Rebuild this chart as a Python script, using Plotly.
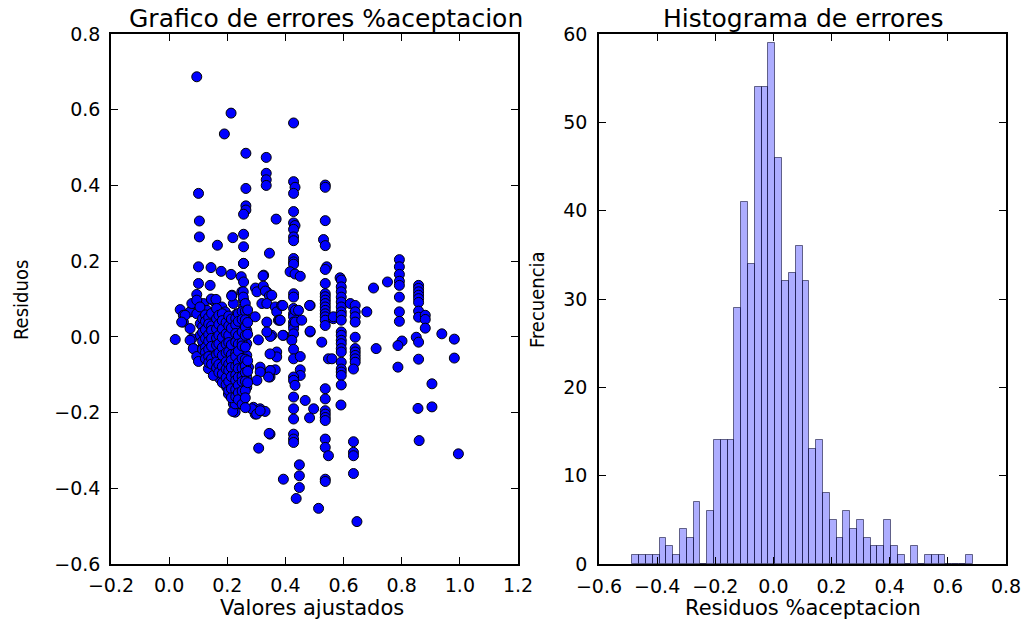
import plotly.graph_objects as go

# ---------------- data: scatter (fitted value, residual) ----------------
pts_upper = [(0.095,0.687),(0.213,0.591),(0.190,0.536),(0.428,0.565),(0.264,0.485),(0.334,0.474),
             (0.334,0.432),(0.334,0.415),(0.334,0.400),(0.428,0.410),(0.433,0.395),(0.428,0.379),
             (0.537,0.401),(0.537,0.395),(0.101,0.379),(0.264,0.392),(0.264,0.346),(0.264,0.335),
             (0.256,0.324),(0.428,0.331),(0.428,0.301),(0.433,0.294),(0.428,0.284),(0.428,0.264),
             (0.428,0.254),(0.368,0.311),(0.104,0.306),(0.537,0.307),(0.104,0.264),(0.219,0.262),
             (0.256,0.271),(0.256,0.238),(0.166,0.242),(0.531,0.257),(0.537,0.241),(0.345,0.221),
             (0.428,0.207),(0.428,0.198),(0.428,0.192),(0.256,0.194)]

pts_right = [(0.792,0.204),(0.792,0.185),(0.792,0.165),(0.792,0.147),(0.792,0.136),(0.792,0.105),
             (0.792,0.066),(0.792,0.041),(0.751,0.145),(0.703,0.129),(0.858,0.136),(0.858,0.128),
             (0.858,0.119),(0.858,0.110),(0.858,0.101),(0.858,0.091),(0.858,0.068),(0.858,0.052),
             (0.881,0.057),(0.881,0.046),(0.881,0.023),(0.680,0.066),(0.938,0.008),(0.981,-0.006),
             (0.712,-0.031),(0.801,-0.011),(0.787,-0.023),(0.850,-0.001),(0.858,-0.014),(0.858,-0.059),
             (0.981,-0.056),(0.787,-0.080),(0.904,-0.124),(0.856,-0.189),(0.904,-0.185),(0.860,-0.274),
             (0.995,-0.309)]

pts_col43 = [(0.416,0.172),(0.433,0.166),(0.451,0.160),(0.428,0.114),(0.428,0.105),(0.428,0.075),
             (0.428,0.061),(0.428,0.053),(0.428,0.039),(0.428,0.030),(0.428,0.022),(0.428,0.008),
             (0.422,-0.009),(0.428,-0.033),(0.428,-0.058),(0.451,-0.052),(0.451,-0.087),(0.451,-0.102),
             (0.428,-0.106),(0.428,-0.115),(0.433,-0.128),(0.428,-0.159),(0.428,-0.190),(0.428,-0.217),
             (0.428,-0.257),(0.428,-0.270),(0.428,-0.279),(0.434,0.070),(0.434,0.039),(0.445,0.070),
             (0.456,0.044),(0.485,0.083),(0.485,0.013),(0.468,-0.168),(0.497,-0.190),(0.483,-0.214),
             (0.448,-0.338),(0.448,-0.367),(0.448,-0.398),(0.393,-0.376),(0.437,-0.427),(0.514,-0.453)]

pts_col54 = [(0.542,0.185),(0.537,0.178),(0.537,0.141),(0.537,0.114),(0.537,0.106),(0.537,0.097),
             (0.537,0.088),(0.537,0.079),(0.537,0.070),(0.537,0.061),(0.537,0.053),(0.537,0.044),
             (0.537,0.030),(0.565,0.048),(0.565,0.053),(0.525,-0.014),(0.548,-0.058),(0.560,-0.058),
             (0.537,-0.137),(0.537,-0.164),(0.537,-0.195),(0.537,-0.204),(0.537,-0.213),(0.537,-0.221),
             (0.537,-0.270),(0.537,-0.292),(0.548,-0.314),(0.537,-0.376),(0.537,-0.382)]

pts_col60 = [(0.588,0.156),(0.592,0.150),(0.592,0.132),(0.592,0.119),(0.592,0.105),(0.592,0.092),
             (0.592,0.079),(0.592,0.066),(0.592,0.057),(0.592,0.044),(0.592,0.013),(0.592,0.004),
             (0.592,-0.009),(0.592,-0.018),(0.592,-0.031),(0.592,-0.040),(0.592,-0.067),(0.592,-0.085),
             (0.592,-0.093),(0.592,-0.102),(0.592,-0.127),(0.591,-0.180),(0.623,0.088),(0.640,0.083),
             (0.640,0.066),(0.640,0.053),(0.640,0.039),(0.640,-0.001),(0.640,-0.031),(0.640,-0.040),
             (0.640,-0.049),(0.640,-0.058),(0.640,-0.067),(0.634,-0.085),(0.634,-0.277),(0.634,-0.305),
             (0.634,-0.314),(0.634,-0.361),(0.646,-0.488)]

pts_mid = [(0.325,0.163),(0.336,0.119),(0.348,0.110),(0.297,0.129),(0.302,0.119),(0.324,0.134),
           (0.331,0.121),(0.345,0.108),(0.319,0.088),(0.336,0.088),(0.365,0.079),(0.370,0.066),
           (0.336,0.039),(0.376,0.044),(0.387,0.083),(0.380,0.044),(0.353,0.110),(0.353,0.004),
           (0.393,0.004),(0.348,0.001),(0.336,0.013),(0.307,-0.008),(0.370,-0.040),(0.370,-0.053),
           (0.347,-0.045),(0.347,-0.089),(0.365,-0.087),(0.347,-0.106),(0.313,-0.080),(0.348,-0.089),
           (0.342,-0.106),(0.313,-0.093),(0.302,-0.115),(0.290,-0.186),(0.313,-0.190),(0.296,-0.204),
           (0.330,-0.197),(0.284,-0.190),(0.347,-0.257),(0.344,-0.255),(0.308,-0.294),(0.391,0.083),
           (0.382,0.044),(0.391,0.004),(0.483,0.083),(0.485,0.015)]

pts_cluster = [(0.101,0.185),(0.144,0.183),(0.179,0.173),(0.213,0.165),(0.256,0.194),(0.248,0.159),
               (0.256,0.145),(0.101,0.141),(0.141,0.136),(0.095,0.112),(0.216,0.110),(0.250,0.119),
               (0.256,0.097),(0.038,0.072),(0.084,0.088),(0.118,0.088),(0.147,0.098),(0.158,0.092),
               (0.181,0.079),(0.221,0.088),(0.256,0.079),(0.233,0.061),(0.193,0.066),(0.049,0.057),
               (0.072,0.066),(0.095,0.061),(0.130,0.070),(0.158,0.061),(0.193,0.048),(0.261,0.057),
               (0.296,0.053),(0.021,-0.007),(0.049,0.039),(0.072,0.022),(0.107,0.035),(0.130,0.026),
               (0.153,0.044),(0.187,0.030),(0.221,0.039),(0.256,0.035),(0.078,-0.005),(0.107,0.004),
               (0.141,0.008),(0.175,0.013),(0.210,0.017),(0.244,0.022),(0.267,0.017),(0.084,-0.031),
               (0.118,-0.022),(0.153,-0.014),(0.187,-0.009),(0.221,-0.009),(0.256,-0.005),(0.267,-0.018),
               (0.101,-0.049),(0.101,-0.062),(0.130,-0.045),(0.158,-0.036),(0.198,-0.031),(0.227,-0.027),
               (0.256,-0.036),(0.267,-0.049),(0.147,-0.076),(0.175,-0.062),(0.198,-0.053),(0.233,-0.062),
               (0.256,-0.071),(0.273,-0.080),(0.153,-0.089),(0.175,-0.111),(0.210,-0.098),(0.244,-0.093),
               (0.267,-0.106),(0.216,-0.124),(0.244,-0.120),(0.250,-0.137),(0.267,-0.133),(0.216,-0.151),
               (0.256,-0.155),(0.244,-0.177),(0.221,-0.177),(0.227,-0.199),(0.219,-0.197),(0.227,-0.177),
               (0.055,0.057),(0.043,0.039),(0.072,-0.009),(0.083,-0.031),(0.095,-0.052),(0.101,-0.065),
               (0.078,0.088),(0.095,0.097),(0.106,0.079),(0.135,-0.084),(0.152,-0.102),(0.198,-0.133),
               (0.204,-0.151),(0.255,-0.168),(0.301,-0.204),(0.313,-0.195),(0.145,0.100),(0.161,0.099),
               (0.215,0.108),(0.255,0.119),(0.255,0.105),(0.323,0.161)]

# points hidden inside the dense cluster (estimated, listed by fitted value)
cluster_fill = {
    0.115: [0.048,0.027,0.012,-0.012,-0.033],
    0.125: [0.058,0.041,0.019,-0.004,-0.028,-0.041,-0.058],
    0.136: [0.051,0.034,0.006,-0.012,-0.033,-0.052,-0.068],
    0.146: [0.062,0.029,0.017,-0.004,-0.025,-0.058,-0.072],
    0.163: [0.075,0.048,0.021,-0.003,-0.022,-0.047,-0.066,-0.082],
    0.171: [0.057,0.033,0.004,-0.018,-0.042,-0.073,-0.094],
    0.183: [0.061,0.043,0.021,-0.002,-0.028,-0.049,-0.078,-0.098,-0.121],
    0.196: [0.038,0.008,-0.019,-0.042,-0.066,-0.085,-0.108,-0.126],
    0.205: [0.055,0.029,0.004,-0.015,-0.039,-0.072,-0.089,-0.118,-0.142],
    0.214: [0.047,0.023,-0.021,-0.047,-0.062,-0.081,-0.105,-0.137,-0.161],
    0.229: [0.049,0.032,0.009,-0.014,-0.043,-0.052,-0.078,-0.101,-0.115,-0.139,-0.158],
    0.238: [0.061,0.041,0.003,-0.019,-0.038,-0.069,-0.084,-0.107,-0.128,-0.148,-0.166],
    0.251: [0.067,0.046,0.013,-0.015,-0.024,-0.057,-0.083,-0.104,-0.118,-0.143,-0.178],
    0.262: [0.088,0.068,0.045,0.026,0.004,-0.027,-0.059,-0.077,-0.094,-0.117,-0.142,-0.161,-0.187],
    0.270: [0.071,0.038,0.007,-0.063,-0.091,-0.121],
}

# ---------------- data: histogram of residuals (50 bins) ----------------
hist_start = -0.485
bin_width = 0.0234
hist_counts = [1,1,1,1,3,2,1,4,3,7,
               0,6,14,14,14,29,41,34,54,54,
               59,46,32,33,36,32,13,14,8,5,
               3,6,4,5,3,2,2,5,2,1,
               0,2,0,1,1,1,0,0,0,1]

# ---------------- assemble ----------------
all_pts = pts_upper + pts_right + pts_col43 + pts_col54 + pts_col60 + pts_mid + pts_cluster
for fv, ys in cluster_fill.items():
    all_pts += [(fv, r) for r in ys]
fitted = [p[0] for p in all_pts]
residuals = [p[1] for p in all_pts]

bin_centers = [hist_start + bin_width * (i + 0.5) for i in range(len(hist_counts))]

FONT = "DejaVu Sans"
fig = go.Figure()
fig.add_trace(go.Scatter(
    x=fitted, y=residuals, mode="markers", xaxis="x", yaxis="y",
    marker=dict(color="#0000ff", size=10, line=dict(color="black", width=1)),
    showlegend=False))
fig.add_trace(go.Bar(
    x=bin_centers, y=hist_counts, width=bin_width, xaxis="x2", yaxis="y2",
    marker=dict(color="rgba(0,0,255,0.32)", line=dict(color="rgba(0,0,40,0.55)", width=1)),
    showlegend=False))

W, H = 1026, 620
def fx(px): return px / W
def fy(py): return 1 - py / H

axis_common = dict(showline=True, linecolor="black", linewidth=1.5, mirror="ticks",
                   ticks="inside", ticklen=7, tickwidth=1, tickcolor="black",
                   showgrid=False, zeroline=False, automargin=False,
                   tickfont=dict(family=FONT, size=19, color="black"))

fig.update_layout(
    width=W, height=H,
    margin=dict(l=0, r=0, t=0, b=0, pad=0, autoexpand=False),
    plot_bgcolor="white", paper_bgcolor="white",
    xaxis=dict(domain=[fx(111), fx(518)], range=[-0.2, 1.2], dtick=0.2, tickformat=".1f",
               anchor="y", ticklabelstandoff=3, **axis_common),
    yaxis=dict(domain=[fy(564), fy(34)], range=[-0.6, 0.8], dtick=0.2, tickformat=".1f",
               anchor="x", ticklabelstandoff=5, **axis_common),
    xaxis2=dict(domain=[fx(599), fx(1006)], range=[-0.6, 0.8], dtick=0.2, tickformat=".1f",
                anchor="y2", ticklabelstandoff=4, **axis_common),
    yaxis2=dict(domain=[fy(564), fy(34)], range=[0, 60], dtick=10,
                anchor="x2", ticklabelstandoff=6, **axis_common),
    bargap=0,
    annotations=[
        dict(text="Grafico de errores %aceptacion", x=fx(326), y=fy(18), xref="paper", yref="paper",
             xanchor="center", yanchor="middle",
             showarrow=False, font=dict(family=FONT, size=25, color="black")),
        dict(text="Histograma de errores", x=fx(803), y=fy(18), xref="paper", yref="paper",
             xanchor="center", yanchor="middle",
             showarrow=False, font=dict(family=FONT, size=25, color="black")),
        dict(text="Valores ajustados", x=fx(312), y=fy(608), xref="paper", yref="paper",
             xanchor="center", yanchor="middle",
             showarrow=False, font=dict(family=FONT, size=21, color="black")),
        dict(text="Residuos %aceptacion", x=fx(803), y=fy(608), xref="paper", yref="paper",
             xanchor="center", yanchor="middle",
             showarrow=False, font=dict(family=FONT, size=21, color="black")),
        dict(text="Residuos", x=fx(21), y=fy(300), xref="paper", yref="paper", textangle=-90,
             xanchor="center", yanchor="middle",
             showarrow=False, font=dict(family="DejaVu Sans Condensed, " + FONT, size=20, color="black")),
        dict(text="Frecuencia", x=fx(537), y=fy(300), xref="paper", yref="paper", textangle=-90,
             xanchor="center", yanchor="middle",
             showarrow=False, font=dict(family="DejaVu Sans Condensed, " + FONT, size=20, color="black")),
    ],
)

fig.write_html("out.html")
